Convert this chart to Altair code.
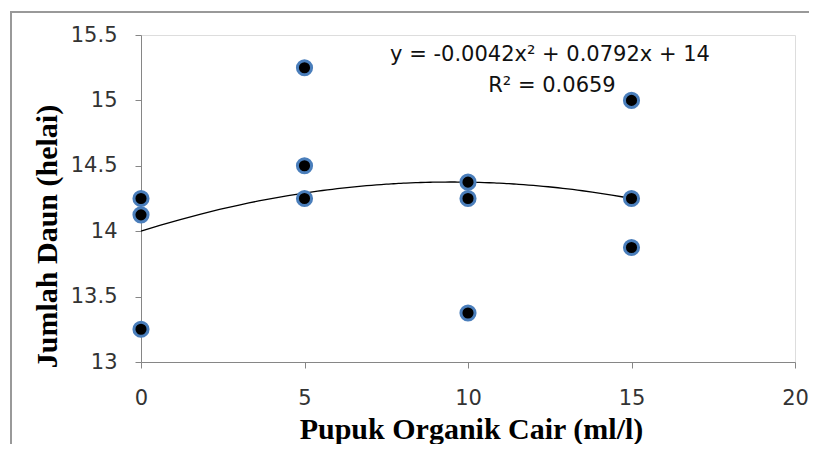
import altair as alt
import pandas as pd

# data
dose = [0, 0, 0, 5, 5, 5, 10, 10, 10, 15, 15, 15]
leaves = [14.25, 14.125, 13.25, 15.25, 14.5, 14.25, 14.375, 14.25, 13.375, 15.0, 14.25, 13.875]
x_ticks = [0, 5, 10, 15, 20]
y_ticks = [13, 13.5, 14, 14.5, 15, 15.5]
eq_lines = ["y = -0.0042x\u00b2 + 0.0792x + 14", "R\u00b2 = 0.0659"]

df = pd.DataFrame({"x": dose, "y": leaves})

W, H = 654, 327
PAD_L, PAD_T, PAD_R = 133, 27, 14

xs = alt.Scale(domain=[0, 20], nice=False, zero=False)
ys = alt.Scale(domain=[13, 15.5], nice=False, zero=False)

label_font = "DejaVu Sans"
title_font = "Liberation Serif"

x_axis = alt.Axis(
    values=x_ticks, format="~g", title="Pupuk Organik Cair (ml/l)", grid=False,
    domainColor="#868686", tickColor="#868686", tickSize=6, labelFlush=False,
    labelFont=label_font, labelFontSize=21, labelColor="#333333", labelPadding=19,
    titleFont=title_font, titleFontSize=30, titleFontWeight="bold", titleColor="#000000",
    titleX=330, titleY=76, titleBaseline="alphabetic", titleAlign="center",
)
y_axis = alt.Axis(
    values=y_ticks, format="~g", title="Jumlah Daun (helai)", grid=False,
    domainColor="#868686", tickColor="#868686", tickSize=6, labelFlush=False,
    labelFont=label_font, labelFontSize=21, labelColor="#333333", labelPadding=18,
    titleFont=title_font, titleFontSize=30, titleFontWeight="bold", titleColor="#000000",
    titleAngle=270, titleX=-79, titleY=201, titleBaseline="bottom", titleAlign="center",
)

base = alt.Chart(df)

trend = base.transform_regression(
    "x", "y", method="poly", order=2, extent=[0, 15]
).mark_line(color="#000000", strokeWidth=1.3).encode(
    x=alt.X("x:Q", scale=xs, axis=x_axis),
    y=alt.Y("y:Q", scale=ys, axis=y_axis),
)

points = base.mark_point(
    filled=True, fill="#000000", stroke="#4a7ebb", strokeWidth=3, size=200, opacity=1
).encode(
    x=alt.X("x:Q", scale=xs),
    y=alt.Y("y:Q", scale=ys),
)

eq_df = pd.DataFrame({"t": eq_lines, "row": [0, 1]})
eq1 = alt.Chart(eq_df.iloc[[0]]).mark_text(
    font=label_font, fontSize=21, color="#111111", align="center", baseline="middle"
).encode(text="t:N", x=alt.value(409), y=alt.value(20))
eq2 = alt.Chart(eq_df.iloc[[1]]).mark_text(
    font=label_font, fontSize=21, color="#111111", align="center", baseline="middle"
).encode(text="t:N", x=alt.value(411), y=alt.value(51))

frame_left = alt.Chart(df).mark_rule(color="#999999", strokeWidth=2).encode(
    x=alt.value(-130), y=alt.value(-23), y2=alt.value(H + 90)
)
frame_top = alt.Chart(df).mark_rule(color="#999999", strokeWidth=2).encode(
    x=alt.value(-131), x2=alt.value(W + PAD_R), y=alt.value(-23)
)

chart = alt.layer(frame_left, frame_top, trend, points, eq1, eq2).properties(
    width=W, height=H,
    autosize=alt.AutoSizeParams(type="none"),
    padding={"left": PAD_L, "top": PAD_T, "right": PAD_R, "bottom": 82},
).configure_view(stroke=None).configure(background="#ffffff")

chart.save("out.html", embed_options={"renderer": "svg", "actions": False})
